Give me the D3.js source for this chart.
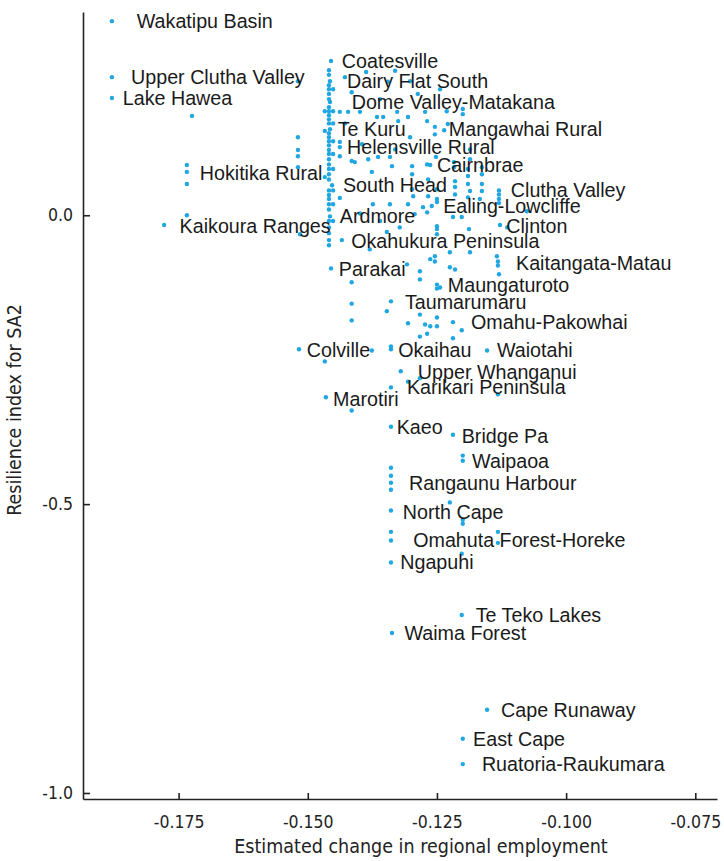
<!doctype html>
<html lang="en">
<head>
<meta charset="utf-8">
<title>Resilience index vs employment change</title>
<style>
  body { margin: 0; background: #fff; }
  .axis path, .axis line { stroke: #222; stroke-width: 1.6; }
  .axis text { font-family: "DejaVu Sans Condensed", "DejaVu Sans", sans-serif; font-size: 17.5px; fill: #222; }
  .title { font-family: "DejaVu Sans Condensed", "DejaVu Sans", sans-serif; font-size: 19.5px; fill: #222; }
  .lab { font-family: "Liberation Sans", Arial, sans-serif; font-size: 19.7px; fill: #1a1a1a; }
  .dot { fill: #20a6e0; }
</style>
</head>
<body>
<div id="chart"></div>
<script src="https://cdn.jsdelivr.net/npm/d3@7"></script>
<script>
// labelled SA2s: [name, employment change, resilience, label x, label y]
var labelled = [
  ["Wakatipu Basin", -0.1879, 0.336, -0.1831, 0.336],
  ["Upper Clutha Valley", -0.1879, 0.239, -0.1842, 0.239],
  ["Lake Hawea", -0.1879, 0.203, -0.1858, 0.203],
  ["Hokitika Rural", -0.1734, 0.075, -0.1709, 0.073],
  ["Kaikoura Ranges", -0.1778, -0.017, -0.1748, -0.019],
  ["Coatesville", -0.1455, 0.267, -0.1434, 0.267],
  ["Dairy Flat South", -0.1457, 0.232, -0.1424, 0.232],
  ["Dome Valley-Matakana", -0.1457, 0.196, -0.1415, 0.196],
  ["Te Kuru", -0.1457, 0.149, -0.1442, 0.149],
  ["Mangawhai Rural", -0.1236, 0.147, -0.1227, 0.149],
  ["Helensville Rural", -0.1438, 0.118, -0.1424, 0.118],
  ["Cairnbrae", -0.1263, 0.087, -0.1250, 0.087],
  ["South Head", -0.1453, 0.052, -0.1432, 0.052],
  ["Clutha Valley", -0.1130, 0.036, -0.1107, 0.043],
  ["Ealing-Lowcliffe", -0.1260, 0.016, -0.1238, 0.016],
  ["Ardmore", -0.1457, -0.002, -0.1438, -0.002],
  ["Clinton", -0.1128, -0.017, -0.1116, -0.019],
  ["Okahukura Peninsula", -0.1434, -0.043, -0.1416, -0.045],
  ["Kaitangata-Matau", -0.1132, -0.080, -0.1097, -0.083],
  ["Parakai", -0.1455, -0.092, -0.1440, -0.094],
  ["Maungaturoto", -0.1250, -0.120, -0.1229, -0.121],
  ["Taumarumaru", -0.1339, -0.149, -0.1312, -0.151],
  ["Omahu-Pakowhai", -0.1202, -0.199, -0.1184, -0.185],
  ["Colville", -0.1517, -0.232, -0.1502, -0.234],
  ["Okaihau", -0.1339, -0.232, -0.1325, -0.234],
  ["Waiotahi", -0.1153, -0.234, -0.1134, -0.234],
  ["Upper Whanganui", -0.1320, -0.270, -0.1287, -0.272],
  ["Karikari Peninsula", -0.1306, -0.288, -0.1308, -0.298],
  ["Marotiri", -0.1465, -0.315, -0.1451, -0.319],
  ["Kaeo", -0.1339, -0.366, -0.1328, -0.366],
  ["Bridge Pa", -0.1219, -0.380, -0.1202, -0.382],
  ["Waipaoa", -0.1200, -0.425, -0.1182, -0.425],
  ["Rangaunu Harbour", -0.1339, -0.463, -0.1304, -0.463],
  ["North Cape", -0.1339, -0.511, -0.1316, -0.513],
  ["Omahuta Forest-Horeke", -0.1339, -0.563, -0.1296, -0.563],
  ["Ngapuhi", -0.1339, -0.601, -0.1321, -0.601],
  ["Te Teko Lakes", -0.1202, -0.692, -0.1175, -0.692],
  ["Waima Forest", -0.1337, -0.723, -0.1313, -0.723],
  ["Cape Runaway", -0.1153, -0.856, -0.1126, -0.856],
  ["East Cape", -0.1200, -0.906, -0.1180, -0.906],
  ["Ruatoria-Raukumara", -0.1200, -0.950, -0.1163, -0.950]
];

// the dense column of SA2s near -0.146
var columnX = [-0.1459, -0.1451];
var columnY = [
  [0.251, 0.243, 0.225, 0.218, 0.210, 0.201, 0.187, 0.180, 0.173, 0.166, 0.159, 0.142, 0.135, 0.128,
   0.121, 0.113, 0.106, 0.097, 0.088, 0.080, 0.071, 0.062, 0.043, 0.035, 0.028, 0.019, 0.010,
   -0.010, -0.021, -0.031, -0.043, -0.052],
  [0.218, 0.180, 0.159, 0.128, 0.106, 0.080, 0.043, 0.019, -0.010]
];

// every other unlabelled SA2: [employment change, resilience]
var others = [
  [-0.1724, 0.172], [-0.1734, 0.087], [-0.1734, 0.054], [-0.1734, 0.000],
  [-0.1519, 0.232], [-0.1519, 0.135], [-0.1519, 0.113], [-0.1519, 0.102], [-0.1519, 0.083],
  [-0.1515, -0.033], [-0.1467, -0.253], [-0.1415, -0.338],
  [-0.1467, 0.180], [-0.1467, 0.146], [-0.1467, 0.066],
  [-0.1438, 0.179], [-0.1438, 0.127], [-0.1438, 0.102], [-0.1438, 0.030], [-0.1428, 0.239], [-0.1428, 0.159],
  [-0.1331, 0.250], [-0.1387, 0.248], [-0.1345, 0.231], [-0.1302, 0.232], [-0.1415, 0.213], [-0.1287, 0.210],
  [-0.1244, 0.218], [-0.1360, 0.201], [-0.1422, 0.179], [-0.1399, 0.179], [-0.1366, 0.170], [-0.1354, 0.170],
  [-0.1327, 0.179], [-0.1325, 0.163], [-0.1306, 0.170], [-0.1273, 0.179], [-0.1269, 0.163], [-0.1231, 0.180],
  [-0.1200, 0.184], [-0.1200, 0.175], [-0.1302, 0.135], [-0.1254, 0.153], [-0.1254, 0.140], [-0.1229, 0.158],
  [-0.1395, 0.123], [-0.1331, 0.114], [-0.1186, 0.114], [-0.1415, 0.094], [-0.1409, 0.092], [-0.1383, 0.097],
  [-0.1376, 0.075], [-0.1364, 0.101], [-0.1341, 0.101], [-0.1337, 0.085], [-0.1298, 0.085], [-0.1298, 0.071],
  [-0.1269, 0.088], [-0.1267, 0.062], [-0.1252, 0.101], [-0.1215, 0.059], [-0.1215, 0.049], [-0.1215, 0.036],
  [-0.1190, 0.080], [-0.1190, 0.068], [-0.1190, 0.054], [-0.1186, 0.042], [-0.1190, 0.031], [-0.1186, 0.097],
  [-0.1163, 0.083], [-0.1163, 0.071], [-0.1163, 0.054], [-0.1163, 0.042], [-0.1167, 0.028], [-0.1298, 0.045],
  [-0.1296, 0.033], [-0.1250, 0.045], [-0.1250, 0.028], [-0.1267, 0.033], [-0.1217, 0.092], [-0.1217, 0.083],
  [-0.1374, 0.019], [-0.1341, 0.019], [-0.1306, 0.019], [-0.1277, 0.014], [-0.1269, 0.005], [-0.1250, 0.023],
  [-0.1219, -0.003], [-0.1202, -0.003], [-0.1250, -0.019], [-0.1250, -0.024], [-0.1188, -0.024], [-0.1347, -0.029],
  [-0.1250, -0.033], [-0.1114, -0.021], [-0.1130, 0.043], [-0.1130, 0.028], [-0.1130, 0.021], [-0.1076, 0.007],
  [-0.1399, 0.003], [-0.1360, -0.010], [-0.1322, -0.021], [-0.1293, 0.002],
  [-0.1380, -0.059], [-0.1263, -0.076], [-0.1254, -0.071], [-0.1254, -0.080], [-0.1225, -0.064], [-0.1186, -0.064],
  [-0.1308, -0.085], [-0.1283, -0.097], [-0.1283, -0.111], [-0.1225, -0.090], [-0.1215, -0.094], [-0.1250, -0.127],
  [-0.1244, -0.125], [-0.1134, -0.071], [-0.1132, -0.087], [-0.1130, -0.102], [-0.1415, -0.116], [-0.1415, -0.153],
  [-0.1415, -0.182], [-0.1347, -0.166], [-0.1306, -0.187], [-0.1283, -0.172], [-0.1283, -0.210], [-0.1273, -0.189],
  [-0.1263, -0.192], [-0.1250, -0.177], [-0.1250, -0.192], [-0.1219, -0.185], [-0.1219, -0.213], [-0.1376, -0.234],
  [-0.1339, -0.227], [-0.1269, -0.205],
  [-0.1283, -0.282], [-0.1339, -0.298], [-0.1132, -0.310], [-0.1200, -0.416], [-0.1339, -0.437], [-0.1339, -0.451],
  [-0.1339, -0.475], [-0.1225, -0.497], [-0.1200, -0.527], [-0.1200, -0.534], [-0.1339, -0.548], [-0.1132, -0.548],
  [-0.1132, -0.567], [-0.1202, -0.586]
];

var xTicks = [-0.175, -0.150, -0.125, -0.100, -0.075];
var yTicks = [0.0, -0.5, -1.0];
var xDomain = [-0.1935, -0.0708];
var yDomain = [-1.0104, 0.3518];

var width = 724, height = 861;
var m = {left: 83, right: 717, top: 12, bottom: 799};

var x = d3.scaleLinear().domain(xDomain).range([m.left, m.right]);
var y = d3.scaleLinear().domain(yDomain).range([m.bottom, m.top]);

// plain hyphen for negatives, like the original
var loc = d3.formatLocale({decimal: ".", thousands: ",", grouping: [3], currency: ["", ""], minus: "-"});

var svg = d3.select("#chart").append("svg")
    .attr("width", width)
    .attr("height", height);

// gather all points
var points = [];
columnX.forEach(function(cx, i) {
  columnY[i].forEach(function(v) { points.push([cx, v]); });
});
others.forEach(function(d) { points.push(d); });
labelled.forEach(function(d) { points.push([d[1], d[2]]); });

svg.append("g")
  .attr("class", "axis")
  .attr("transform", "translate(0," + m.bottom + ")")
  .call(d3.axisBottom(x).tickValues(xTicks).tickFormat(loc.format(".3f"))
        .tickSizeInner(-6).tickSizeOuter(0).tickPadding(17));

svg.append("g")
  .attr("class", "axis")
  .attr("transform", "translate(" + m.left + ",0)")
  .call(d3.axisLeft(y).tickValues(yTicks).tickFormat(loc.format(".1f"))
        .tickSizeInner(-7).tickSizeOuter(0).tickPadding(10));

svg.selectAll(".dot")
  .data(points)
  .enter().append("circle")
  .attr("class", "dot")
  .attr("cx", function(d) { return x(d[0]); })
  .attr("cy", function(d) { return y(d[1]); })
  .attr("r", 2.2);

svg.selectAll(".lab")
  .data(labelled)
  .enter().append("text")
  .attr("class", "lab")
  .attr("x", function(d) { return x(d[3]); })
  .attr("y", function(d) { return y(d[4]); })
  .attr("dy", "0.35em")
  .text(function(d) { return d[0]; });

svg.append("text")
  .attr("class", "title")
  .attr("x", 421)
  .attr("y", 853)
  .attr("text-anchor", "middle")
  .text("Estimated change in regional employment");

svg.append("text")
  .attr("class", "title")
  .attr("transform", "translate(21,410) rotate(-90)")
  .attr("text-anchor", "middle")
  .text("Resilience index for SA2");
</script>
</body>
</html>
